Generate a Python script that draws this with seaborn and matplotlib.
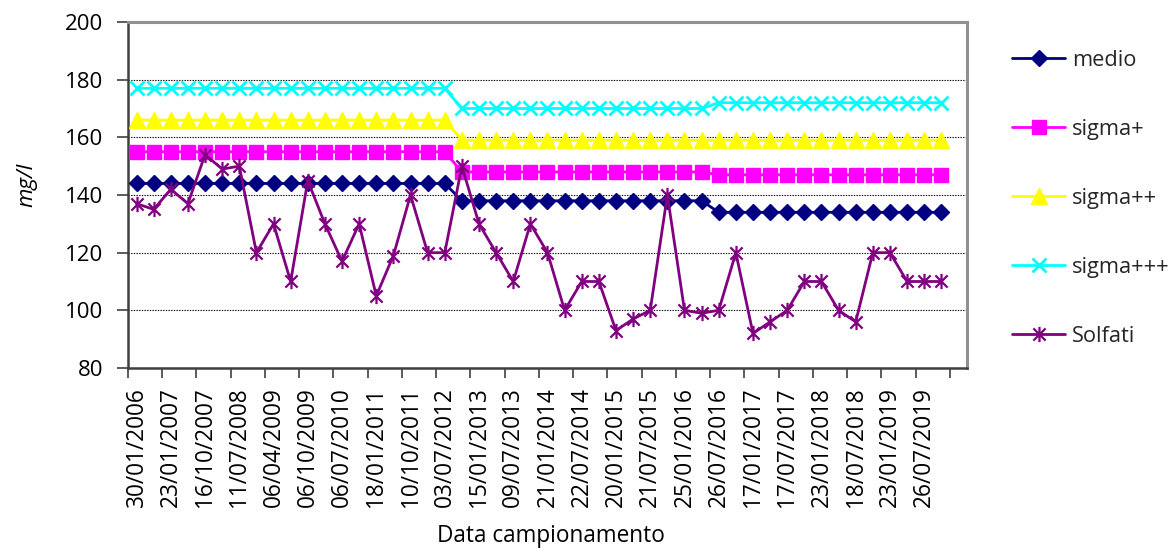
import numpy as np
import pandas as pd
import matplotlib
matplotlib.use("Agg")
import matplotlib.pyplot as plt
from matplotlib.path import Path
from matplotlib.ticker import FixedLocator, NullFormatter, FixedFormatter
import seaborn as sns

# ---------------- data ----------------
date_labels = ["30/01/2006", "23/01/2007", "16/10/2007", "11/07/2008", "06/04/2009",
               "06/10/2009", "06/07/2010", "18/01/2011", "10/10/2011", "03/07/2012",
               "15/01/2013", "09/07/2013", "21/01/2014", "22/07/2014", "20/01/2015",
               "21/07/2015", "25/01/2016", "26/07/2016", "17/01/2017", "17/07/2017",
               "23/01/2018", "18/07/2018", "23/01/2019", "26/07/2019"]

medio = [144, 144, 144, 144, 144, 144, 144, 144, 144, 144, 144, 144, 144, 144, 144, 144,
         144, 144, 144, 138, 138, 138, 138, 138, 138, 138, 138, 138, 138, 138, 138, 138,
         138, 138, 134, 134, 134, 134, 134, 134, 134, 134, 134, 134, 134, 134, 134, 134]
sigma_p = [155, 155, 155, 155, 155, 155, 155, 155, 155, 155, 155, 155, 155, 155, 155, 155,
           155, 155, 155, 148, 148, 148, 148, 148, 148, 148, 148, 148, 148, 148, 148, 148,
           148, 148, 147, 147, 147, 147, 147, 147, 147, 147, 147, 147, 147, 147, 147, 147]
sigma_pp = [166, 166, 166, 166, 166, 166, 166, 166, 166, 166, 166, 166, 166, 166, 166, 166,
            166, 166, 166, 159, 159, 159, 159, 159, 159, 159, 159, 159, 159, 159, 159, 159,
            159, 159, 159, 159, 159, 159, 159, 159, 159, 159, 159, 159, 159, 159, 159, 159]
sigma_ppp = [177, 177, 177, 177, 177, 177, 177, 177, 177, 177, 177, 177, 177, 177, 177, 177,
             177, 177, 177, 170, 170, 170, 170, 170, 170, 170, 170, 170, 170, 170, 170, 170,
             170, 170, 172, 172, 172, 172, 172, 172, 172, 172, 172, 172, 172, 172, 172, 172]
solfati = [137, 135, 142, 137, 154, 149, 150, 120, 130, 110, 145, 130, 117, 130, 105, 119,
           140, 120, 120, 150, 130, 120, 110, 130, 120, 100, 110, 110, 93, 97, 100, 140,
           100, 99, 100, 120, 92, 96, 100, 110, 110, 100, 96, 120, 120, 110, 110, 110]

series_names = ["medio", "sigma+", "sigma++", "sigma+++", "Solfati"]

# ---------------- style ----------------
sns.set_theme(style="white")
plt.rcParams["font.family"] = ["Open Sans", "DejaVu Sans"]

star = Path([(-1, -1), (1, 1), (-1, 1), (1, -1), (0, -1.25), (0, 1.25)],
            [Path.MOVETO, Path.LINETO, Path.MOVETO, Path.LINETO, Path.MOVETO, Path.LINETO])

styles = {
    "medio":    dict(color="#000080", marker="D", ms=7.8, mec="#000080", mew=1),
    "sigma+":   dict(color="#FF00FF", marker="s", ms=10.5, mec="#FF00FF", mew=1),
    "sigma++":  dict(color="#FFFF00", marker="^", ms=11.5, mec="#FFFF00", mew=1),
    "sigma+++": dict(color="#00FFFF", marker="x", ms=10.5, mec="#00FFFF", mew=2),
    "Solfati":  dict(color="#800080", marker=star, ms=11, mec="#800080", mew=1.6),
}

fig = plt.figure(figsize=(11.76, 5.54), dpi=100)
ax = fig.add_axes([128 / 1176, 1 - 368 / 554, (967 - 128) / 1176, (368 - 22) / 554])

x = np.arange(len(solfati))
data = dict(zip(series_names, [medio, sigma_p, sigma_pp, sigma_ppp, solfati]))
for name in series_names:
    st = styles[name]
    sns.lineplot(x=x, y=data[name], ax=ax, color=st["color"], lw=2.0,
                 marker=st["marker"], markersize=st["ms"], markeredgecolor=st["mec"],
                 markeredgewidth=st["mew"], label=name, zorder=3)

ax.set_xlim(-0.5, 48.5)
ax.set_ylim(80, 200)
ax.set_yticks(np.arange(80, 201, 20))
ax.yaxis.grid(True, linestyle=(0, (1.2, 1.2)), color="black", lw=0.8)
ax.xaxis.grid(False)

# x ticks: marks between pairs of categories, labels on even categories
ax.xaxis.set_major_locator(FixedLocator(np.arange(-0.5, 48.6, 2)))
ax.xaxis.set_major_formatter(NullFormatter())
ax.xaxis.set_minor_locator(FixedLocator(np.arange(0, 2 * len(date_labels), 2)))
ax.xaxis.set_minor_formatter(FixedFormatter(date_labels))
ax.tick_params(axis="x", which="major", bottom=True, length=7, width=1.2, color="#404040", direction="out")
ax.tick_params(axis="x", which="minor", bottom=True, length=0, pad=14, labelsize=16.3,
               labelrotation=90, labelcolor="black")
ax.tick_params(axis="y", left=True, length=8, width=1.2, color="#404040", direction="out",
               pad=10, labelsize=16, labelcolor="black")
for lab in ax.get_xticklabels(minor=True):
    lab.set_ha("center")
    lab.set_va("top")

for s in ["left", "bottom"]:
    ax.spines[s].set_color("#404040")
    ax.spines[s].set_linewidth(1.8)
for s in ["top", "right"]:
    ax.spines[s].set_color("#909090")
    ax.spines[s].set_linewidth(2.2)

ax.set_ylabel("mg/l", fontsize=16, style="italic", color="black")
ax.yaxis.set_label_coords(-0.108, 0.53)
ax.set_xlabel("Data campionamento", fontsize=16.3, color="black")
ax.xaxis.set_label_coords(0.504, -0.45)

handles, labels = ax.get_legend_handles_labels()
ax.get_legend().remove()
fig.legend(handles, labels, loc="upper left", bbox_to_anchor=(1012 / 1176, 1 - 50 / 554),
           frameon=False, fontsize=15.7, handlelength=2.45, handletextpad=0.3,
           labelspacing=2.2, borderpad=0, borderaxespad=0)

fig.savefig("out.png", dpi=100, facecolor="white")
